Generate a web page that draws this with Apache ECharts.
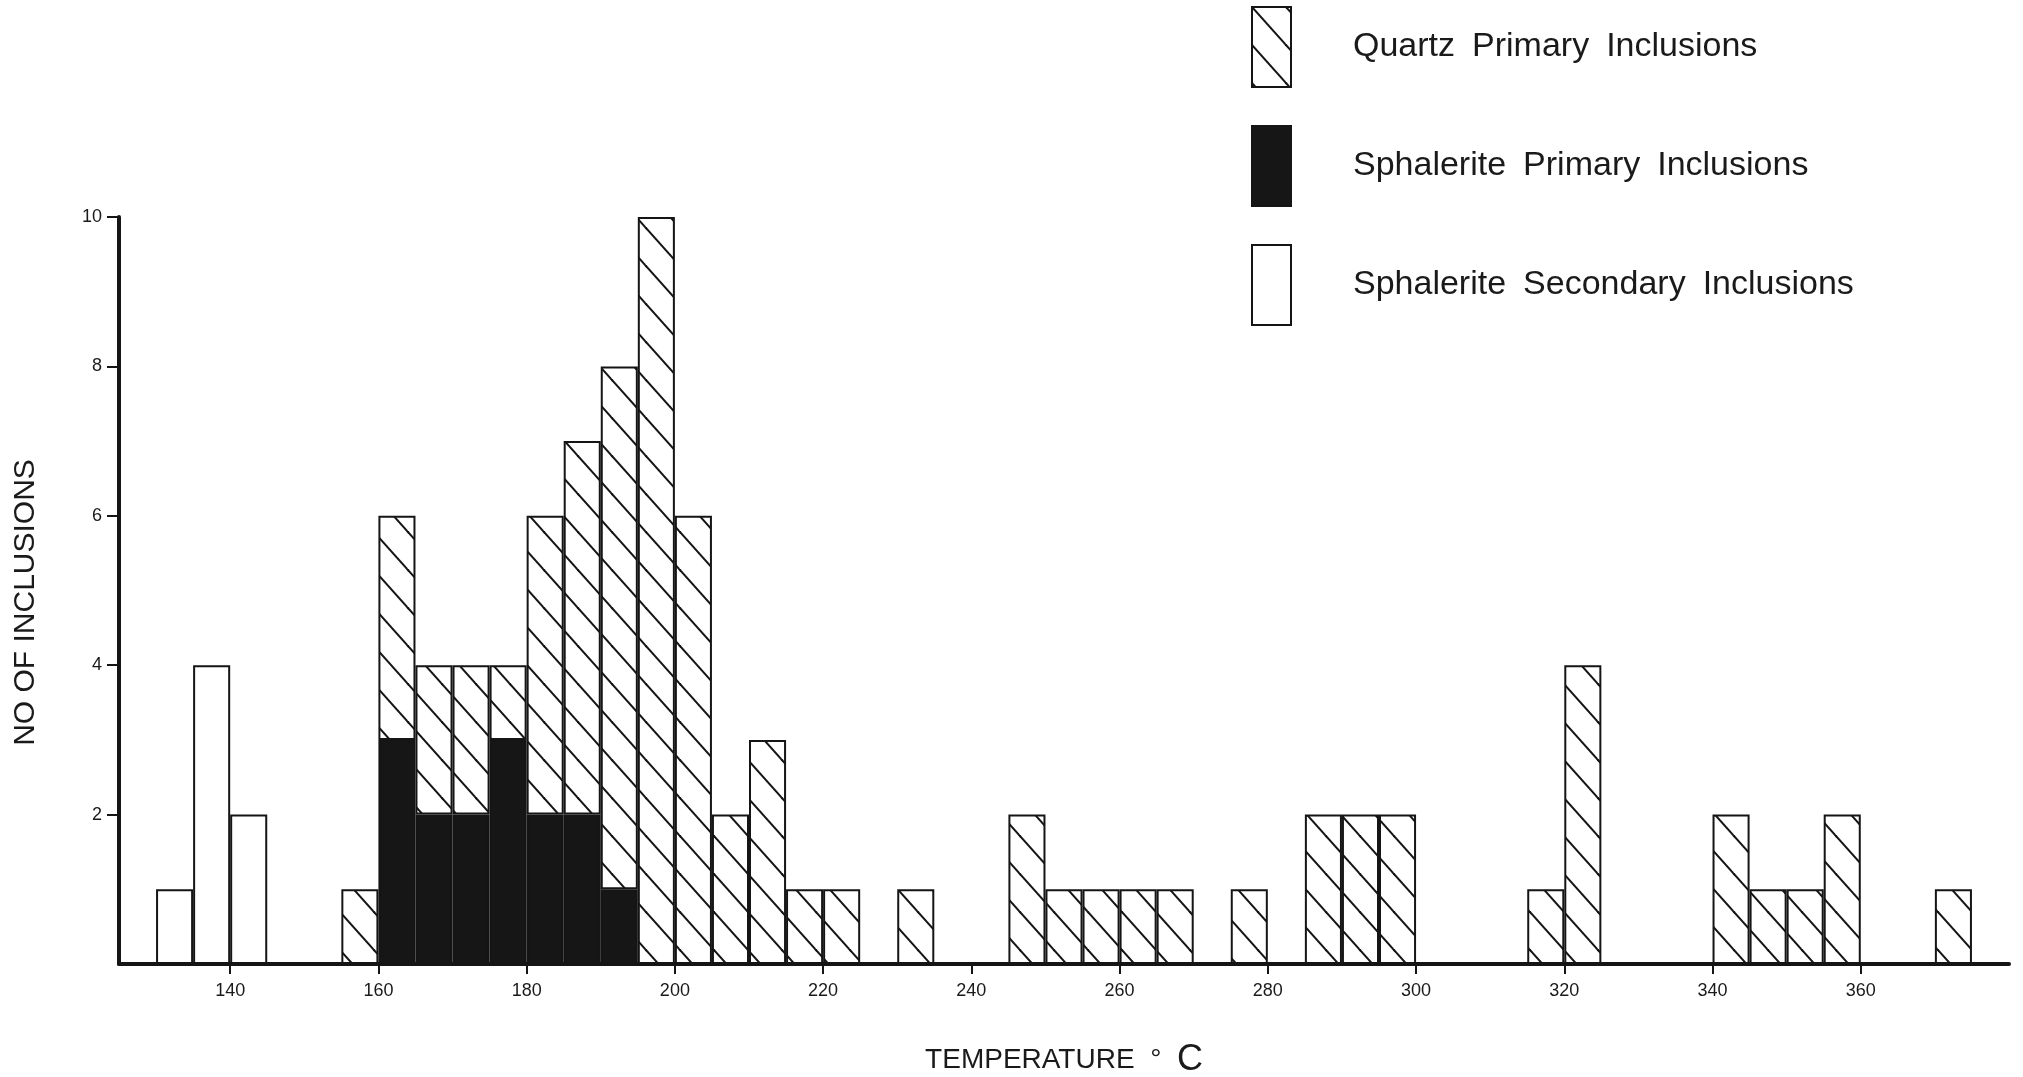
<!DOCTYPE html>
<html><head><meta charset="utf-8">
<script src="https://cdn.jsdelivr.net/npm/echarts@6/dist/echarts.min.js"></script>
<style>html,body{margin:0;padding:0;background:#fff}#c{width:2023px;height:1077px}</style>
</head><body><div id="c"></div>
<script>
// Bin lower edges (5 °C bins) spanning the axis 125–380 °C
const binStarts = [125,130,135,140,145,150,155,160,165,170,175,180,185,190,195,200,205,210,215,220,
  225,230,235,240,245,250,255,260,265,270,275,280,285,290,295,300,305,310,315,320,
  325,330,335,340,345,350,355,360,365,370,375];
// [bin lower edge, count]
const secondaryInclusions = [[130,1],[135,4],[140,2]];
const sphaleritePrimary = [[160,3],[165,2],[170,2],[175,3],[180,2],[185,2],[190,1]];
const quartzPrimary = [[155,1],[160,3],[165,2],[170,2],[175,1],[180,4],[185,5],[190,7],[195,10],
  [200,6],[205,2],[210,3],[215,1],[220,1],[230,1],[245,2],[250,1],[255,1],[260,1],[265,1],
  [275,1],[285,2],[290,2],[295,2],[315,1],[320,4],[340,2],[345,1],[350,1],[355,2],[370,1]];
const xTickLabels = [140,160,180,200,220,240,260,280,300,320,340,360];
const yTickLabels = [2,4,6,8,10];

const FONT = '"Liberation Sans", Arial, Helvetica, sans-serif';
const INK = '#151515';

function toBins(pairs) {
  return binStarts.map(s => { const p = pairs.find(q => q[0] === s); return p ? p[1] : null; });
}
const categories = binStarts.map(s => s + '–' + (s + 5));

// hatch pattern "\" lines
function makeHatch() {
  const W = 34, H = 38;
  const c = document.createElement('canvas');
  c.width = W; c.height = H;
  const g = c.getContext('2d');
  g.fillStyle = '#ffffff'; g.fillRect(0, 0, W, H);
  g.strokeStyle = INK; g.lineWidth = 2;
  for (const [ox, oy] of [[0,0],[W,0],[-W,0],[0,H],[0,-H]]) {
    g.beginPath();
    g.moveTo(ox - W, oy - H);
    g.lineTo(ox + 2 * W, oy + 2 * H);
    g.stroke();
  }
  return c;
}
const hatch = { image: makeHatch(), repeat: 'repeat' };

const chart = echarts.init(document.getElementById('c'), null, { renderer: 'canvas' });
const barBase = { type: 'bar', stack: 'all', xAxisIndex: 0, yAxisIndex: 0,
  barCategoryGap: 0, barWidth: '100%', silent: true };

chart.setOption({
  animation: false,
  backgroundColor: '#ffffff',
  grid: { left: 119, right: 14, top: 217, bottom: 113, containLabel: false, outerBoundsMode: 'none' },
  legend: {
    data: ['Quartz Primary Inclusions', 'Sphalerite Primary Inclusions', 'Sphalerite Secondary Inclusions'],
    orient: 'vertical', left: 1251, top: 6, padding: 0,
    itemWidth: 39, itemHeight: 80, itemGap: 37, icon: 'rect', selectedMode: false,
    formatter: name => name.replace(/ /g, '\u2002'),
    itemStyle: { borderColor: INK, borderWidth: 2 },
    textStyle: { fontSize: 34, fontFamily: FONT, color: '#1a1a1a', padding: [0, 0, 0, 57] }
  },
  xAxis: [
    { type: 'category', data: categories, boundaryGap: true, show: false, position: 'top' },
    { type: 'value', min: 125, max: 380, position: 'bottom', z: 10,
      name: 'TEMPERATURE  °  {big|C}', nameLocation: 'middle', nameGap: 78,
      nameTextStyle: { fontSize: 28, fontFamily: FONT, color: '#1a1a1a',
        rich: { big: { fontSize: 36, fontFamily: FONT, color: '#1a1a1a' } } },
      axisLine: { show: true, lineStyle: { color: INK, width: 4 } },
      axisTick: { show: true, customValues: xTickLabels, length: 10, lineStyle: { color: INK, width: 2 } },
      axisLabel: { customValues: xTickLabels, fontSize: 18, fontFamily: FONT, color: '#1a1a1a', margin: 18 },
      splitLine: { show: false } }
  ],
  yAxis: [{
    type: 'value', min: 0, max: 10, interval: 2, z: 10,
    name: 'NO OF INCLUSIONS', nameLocation: 'middle', nameGap: 78,
    nameTextStyle: { fontSize: 30, fontFamily: FONT, color: '#1a1a1a', padding: [0, 24, 0, 0] },
    axisLine: { show: true, lineStyle: { color: INK, width: 4 } },
    axisTick: { show: true, customValues: yTickLabels, length: 12, lineStyle: { color: INK, width: 2 } },
    axisLabel: { customValues: yTickLabels, fontSize: 18, fontFamily: FONT, color: '#1a1a1a', margin: 17 },
    splitLine: { show: false }
  }],
  series: [
    Object.assign({}, barBase, { name: 'Sphalerite Secondary Inclusions', data: toBins(secondaryInclusions),
      itemStyle: { color: '#ffffff', borderColor: INK, borderWidth: 2 } }),
    Object.assign({}, barBase, { name: 'Sphalerite Primary Inclusions', data: toBins(sphaleritePrimary),
      itemStyle: { color: '#161616', borderColor: INK, borderWidth: 2 } }),
    Object.assign({}, barBase, { name: 'Quartz Primary Inclusions', data: toBins(quartzPrimary),
      itemStyle: { color: hatch, borderColor: INK, borderWidth: 2 } })
  ]
});
</script></body></html>
